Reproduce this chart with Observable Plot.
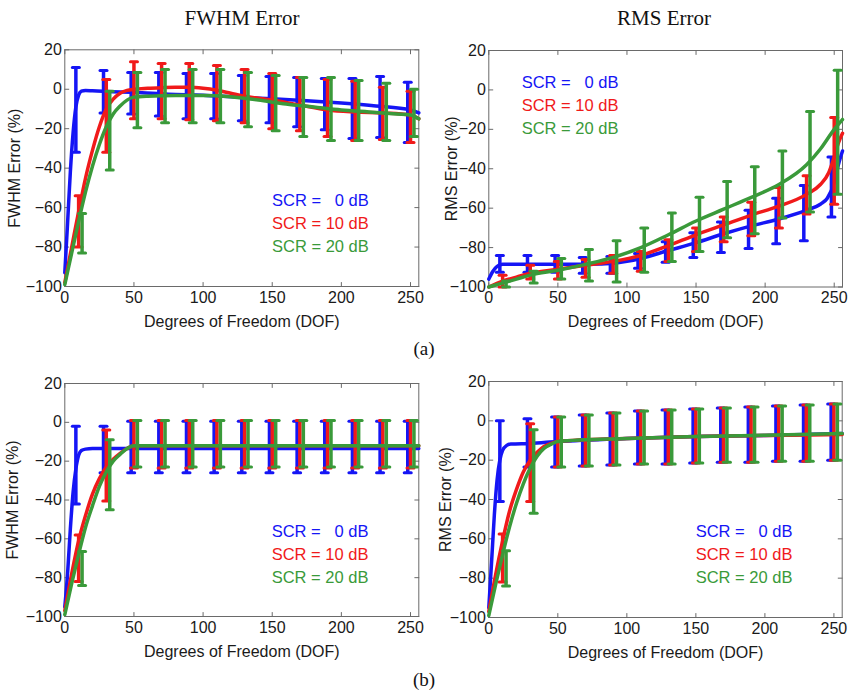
<!DOCTYPE html>
<html><head><meta charset="utf-8">
<script src="https://cdn.jsdelivr.net/npm/d3@7"></script>
<script src="https://cdn.jsdelivr.net/npm/@observablehq/plot@0.6"></script>
<style>
body{margin:0;background:#fff;}
#fig{position:relative;width:849px;height:694px;background:#fff;overflow:hidden;}
.panel{position:absolute;}
.title{position:absolute;font-family:"Liberation Serif","Times New Roman",serif;color:#111;transform:translateX(-50%);white-space:nowrap;line-height:24px;}
.leg{position:absolute;font-family:"Liberation Sans",Arial,sans-serif;font-size:16.5px;white-space:pre;line-height:23px;}
</style></head>
<body><div id="fig"></div>
<script>
// ---- shared ticks / categories ----
const xTicks = [0, 50, 100, 150, 200, 250];
const yTicks = [-100, -80, -60, -40, -20, 0, 20];
const xDomain = [0, 256];
const yDomain = [-100, 20];
const dofBars = [10, 30, 50, 70, 90, 110, 130, 150, 170, 190, 210, 230, 250];
const barOffsets = {blue: -2, red: 0, green: 2.5};
const legendLabels = ["SCR =\u2007 0 dB", "SCR = 10 dB", "SCR = 20 dB"];
const colors = {blue: "#1515f5", red: "#f01a1a", green: "#3a9a3a"};

// ---- (a) FWHM Error ----
const fwhmA_blue_hi = [11, 9.5, 8.5, 8.5, 8, 8, 7, 6.5, 6, 5.5, 5.5, 6.5, 3.5];
const fwhmA_blue_lo = [-32, -12, -12.5, -13.5, -15, -15, -16, -17, -19, -20.5, -25, -24.5, -27];
const fwhmA_red_hi = [-54, 5, 14, 13, 13, 12, 10, 8, 6, 5, 4, 1, -1];
const fwhmA_red_lo = [-80, -32, -15, -15, -15.5, -16, -17, -20, -21, -24, -26, -25.5, -27];
const fwhmA_green_hi = [-63, -1, 8.5, 10, 10, 10, 8.5, 7, 6, 6, 4.4, 3, 0];
const fwhmA_green_lo = [-83, -41, -19.5, -17, -17, -17, -19, -21, -24, -26, -26, -26, -24];
const fwhmA_blue_x = [0, 2, 4, 6, 8, 10, 12, 15, 20, 30, 50, 75, 100, 125, 150, 175, 200, 225, 250, 256];
const fwhmA_blue_y = [-93, -68, -42, -22, -9, -3, -1, -0.6, -0.8, -1.2, -1.5, -2.5, -3, -4, -4.8, -5.8, -7, -8.5, -10.5, -12];
const fwhmA_red_x = [0, 5, 10, 15, 20, 25, 30, 35, 40, 45, 50, 60, 70, 80, 90, 100, 110, 120, 130, 150, 170, 190, 210, 230, 250, 256];
const fwhmA_red_y = [-98, -80, -62, -45, -31, -19, -10, -5, -2, -0.6, 0, 0.5, 0.8, 1, 1, 0.5, -0.5, -2, -3.5, -5.5, -8, -10.5, -11.5, -12, -13, -15];
const fwhmA_green_x = [0, 5, 10, 15, 20, 25, 30, 35, 40, 45, 50, 60, 80, 100, 120, 140, 160, 180, 200, 220, 240, 250, 256];
const fwhmA_green_y = [-99, -83, -67, -52, -39, -28, -19, -12.5, -8.5, -5.5, -4, -3.5, -3.2, -3.2, -3.8, -5.5, -7.5, -9, -10.5, -11.5, -12.5, -13, -15];

// ---- (a) RMS Error ----
const rmsA_blue_hi = [-84, -84, -84, -85, -84.5, -83, -77, -72.5, -67, -61, -55, -48.5, -34];
const rmsA_blue_lo = [-92.5, -92.5, -92.5, -93, -93, -90.5, -87.5, -85, -82.5, -80.5, -78, -76.5, -64.5];
const rmsA_red_hi = [-94, -89, -87, -86, -84, -82, -76, -70, -64.5, -57, -49.5, -43.5, -14];
const rmsA_red_lo = [-100, -96, -96, -95, -93, -92, -87, -82, -77, -74, -70, -63, -58];
const rmsA_green_hi = [-97, -92, -85.5, -81, -76.5, -70, -62.5, -54.5, -46.5, -39, -31, -11, 10];
const rmsA_green_lo = [-100, -98, -96, -97, -97.5, -92.5, -87, -82, -75, -73, -65, -62, -53];
const rmsA_blue_x = [0, 3, 6, 10, 20, 40, 60, 80, 90, 100, 110, 130, 150, 170, 190, 210, 230, 240, 245, 250, 253, 256];
const rmsA_blue_y = [-96, -92, -89.5, -88.5, -88.5, -88.5, -88.5, -88.3, -88, -87, -85.5, -81.5, -77.5, -73, -69, -65.5, -61, -58, -55, -47, -38, -31];
const rmsA_red_x = [0, 10, 20, 30, 50, 70, 90, 110, 130, 150, 170, 190, 210, 230, 240, 246, 250, 253, 256];
const rmsA_red_y = [-100, -97, -95, -93, -91, -89, -87, -84, -79, -73.5, -68.5, -63.5, -59, -53, -48, -42, -34, -27, -22];
const rmsA_green_x = [0, 10, 20, 30, 50, 70, 90, 110, 130, 150, 170, 190, 210, 230, 240, 250, 256];
const rmsA_green_y = [-100, -98, -96, -94, -91.5, -88.5, -85, -80, -73.5, -66.5, -60.5, -54.5, -48, -38, -30, -20, -15];

// ---- (b) FWHM Error ----
const fwhmB_blue_hi = [-2, -2, 0.5, 0.5, 0.5, 0.5, 0.5, 0.5, 0.5, 0.5, 0.5, 0.5, 0.5];
const fwhmB_blue_lo = [-42, -26, -26, -26, -26, -26, -26, -26, -26, -26, -26, -26, -26];
const fwhmB_red_hi = [-58, -4, 1, 1, 1, 1, 1, 1, 1, 1, 1, 1, 1];
const fwhmB_red_lo = [-82, -40.5, -23.5, -23.5, -23.5, -23.5, -23.5, -23.5, -23.5, -23.5, -23.5, -23.5, -23.5];
const fwhmB_green_hi = [-66.5, -9, 1, 1, 1, 1, 1, 1, 1, 1, 1, 1, 1];
const fwhmB_green_lo = [-84, -45, -23, -23, -23, -23, -23, -23, -23, -23, -23, -23, -23];
const fwhmB_blue_x = [0, 2, 4, 6, 8, 10, 12, 15, 20, 256];
const fwhmB_blue_y = [-95, -78, -55, -36, -24, -17, -14.5, -13.8, -13.5, -13.5];
const fwhmB_red_x = [0, 5, 10, 15, 20, 25, 30, 35, 40, 45, 50, 256];
const fwhmB_red_y = [-97, -78, -61, -48, -37, -29, -23, -19, -16, -13.5, -12, -12];
const fwhmB_green_x = [0, 5, 10, 15, 20, 25, 30, 35, 40, 45, 50, 256];
const fwhmB_green_y = [-99, -83, -68, -54, -43, -33, -25.5, -20, -16.5, -13.5, -12, -12];

// ---- (b) RMS Error ----
const rmsB_blue_hi = [0, 1, 2, 3, 4, 5, 5.5, 6, 6.5, 7, 7.5, 8, 8.5];
const rmsB_blue_lo = [-41, -23.5, -23.5, -23, -22.5, -22, -22, -21.5, -21, -21, -20.5, -20.5, -20];
const rmsB_red_hi = [-57.5, -1.5, 2, 3, 4, 5, 5.5, 6, 6.5, 7, 7.5, 8, 8.5];
const rmsB_red_lo = [-82, -41, -23.5, -23, -22.5, -22, -22, -21.5, -21, -21, -20.5, -20.5, -20];
const rmsB_green_hi = [-66, -4.5, 2, 3, 4, 5, 5.5, 6, 6.5, 7, 7.5, 8, 8.5];
const rmsB_green_lo = [-84, -47, -23.5, -23, -22.5, -22, -22, -21.5, -21, -21, -20.5, -20.5, -20];
const rmsB_blue_x = [0, 2, 4, 6, 8, 10, 13, 16, 30, 50, 100, 150, 200, 256];
const rmsB_blue_y = [-95, -72, -48, -30, -20, -15, -12.5, -11.8, -11.5, -10.5, -9, -8, -7.5, -6.5];
const rmsB_red_x = [0, 5, 10, 15, 20, 25, 30, 35, 40, 45, 50, 100, 150, 200, 256];
const rmsB_red_y = [-97, -78, -61, -46, -35, -26, -20, -16, -13, -11.5, -10.5, -9, -8, -7.5, -7];
const rmsB_green_x = [0, 5, 10, 15, 20, 25, 30, 35, 40, 45, 50, 100, 150, 200, 256];
const rmsB_green_y = [-99, -83, -68, -54, -42, -32, -24, -18, -14, -12, -10.5, -9, -8, -7.3, -6.5];

// ---- drawing helpers ----
const tickShape = {draw(ctx, l) { ctx.moveTo(0, 0); ctx.lineTo(0, -l); }};
const capShape = {draw(ctx, l) { ctx.moveTo(-l / 2, 0); ctx.lineTo(l / 2, 0); }};
const frameColor = "#6a6a6a";
const sansFont = "'Liberation Sans', Arial, sans-serif";

function seriesMarks(lx, ly, lo, hi, name) {
  const color = colors[name];
  const line = lx.map((x, i) => ({x, y: ly[i]}));
  const bars = dofBars.map((d, i) => ({x: d + barOffsets[name], lo: lo[i], hi: hi[i]}));
  return [
    Plot.line(line, {x: "x", y: "y", stroke: color, strokeWidth: 3.5, curve: "monotone-x"}),
    Plot.ruleX(bars, {x: "x", y1: "lo", y2: "hi", stroke: color, strokeWidth: 3.5}),
    Plot.vector(bars, {x: "x", y: "lo", length: 7, shape: capShape, anchor: "start", stroke: color, strokeWidth: 3}),
    Plot.vector(bars, {x: "x", y: "hi", length: 7, shape: capShape, anchor: "start", stroke: color, strokeWidth: 3})
  ];
}

function frameTicks() {
  const o = {length: 4, shape: tickShape, anchor: "start", stroke: frameColor, strokeWidth: 1};
  return [
    Plot.vector(xTicks, {...o, x: d => d, frameAnchor: "bottom", rotate: 0}),
    Plot.vector(xTicks, {...o, x: d => d, frameAnchor: "top", rotate: 180}),
    Plot.vector(yTicks, {...o, y: d => d, frameAnchor: "left", rotate: 90}),
    Plot.vector(yTicks, {...o, y: d => d, frameAnchor: "right", rotate: -90})
  ];
}

function panel(p) {
  const chart = Plot.plot({
    width: p.width, height: p.height,
    marginLeft: p.ml, marginRight: p.mr, marginTop: p.mt, marginBottom: p.mb,
    x: {domain: xDomain},
    y: {domain: yDomain},
    style: {background: "transparent", overflow: "visible", fontFamily: sansFont, fontSize: "16px", color: "#1a1a1a"},
    marks: [
      Plot.frame({stroke: frameColor, strokeWidth: 1}),
      ...frameTicks(),
      Plot.axisX(xTicks, {tickSize: 0, tickPadding: 5, label: "Degrees of Freedom (DOF)", labelAnchor: "center", labelArrow: "none", labelOffset: 40, fontSize: 16, fontFamily: sansFont}),
      Plot.axisY(yTicks, {tickSize: 0, tickPadding: 3, label: p.ylabel, labelAnchor: "center", labelArrow: "none", labelOffset: p.ylabelOffset, fontSize: 16, fontFamily: sansFont}),
      ...seriesMarks(p.s.blue[0], p.s.blue[1], p.s.blue[2], p.s.blue[3], "blue"),
      ...seriesMarks(p.s.red[0], p.s.red[1], p.s.red[2], p.s.red[3], "red"),
      ...seriesMarks(p.s.green[0], p.s.green[1], p.s.green[2], p.s.green[3], "green")
    ]
  });
  const div = document.createElement("div");
  div.className = "panel";
  div.style.left = p.left + "px";
  div.style.top = p.top + "px";
  div.appendChild(chart);
  fig.appendChild(div);
  // legend
  const leg = document.createElement("div");
  leg.className = "leg";
  leg.style.left = p.legLeft + "px";
  leg.style.top = p.legTop + "px";
  ["blue", "red", "green"].forEach((c, i) => {
    const row = document.createElement("div");
    row.textContent = legendLabels[i];
    row.style.color = colors[c];
    leg.appendChild(row);
  });
  fig.appendChild(leg);
}

const fig = document.getElementById("fig");

panel({left: 0, top: 30, width: 424, height: 310, ml: 64.3, mr: 5.7, mt: 19.3, mb: 54,
  ylabel: "FWHM Error (%)", ylabelOffset: 56, legLeft: 272, legTop: 188.5,
  s: {blue: [fwhmA_blue_x, fwhmA_blue_y, fwhmA_blue_lo, fwhmA_blue_hi],
      red: [fwhmA_red_x, fwhmA_red_y, fwhmA_red_lo, fwhmA_red_hi],
      green: [fwhmA_green_x, fwhmA_green_y, fwhmA_green_lo, fwhmA_green_hi]}});
panel({left: 424, top: 30, width: 425, height: 310, ml: 64.3, mr: 7, mt: 20, mb: 53.5,
  ylabel: "RMS Error (%)", ylabelOffset: 43, legLeft: 521.7, legTop: 70.8,
  s: {blue: [rmsA_blue_x, rmsA_blue_y, rmsA_blue_lo, rmsA_blue_hi],
      red: [rmsA_red_x, rmsA_red_y, rmsA_red_lo, rmsA_red_hi],
      green: [rmsA_green_x, rmsA_green_y, rmsA_green_lo, rmsA_green_hi]}});
panel({left: 0, top: 360, width: 424, height: 310, ml: 64.3, mr: 5.7, mt: 23, mb: 54,
  ylabel: "FWHM Error (%)", ylabelOffset: 58, legLeft: 271.7, legTop: 520.2,
  s: {blue: [fwhmB_blue_x, fwhmB_blue_y, fwhmB_blue_lo, fwhmB_blue_hi],
      red: [fwhmB_red_x, fwhmB_red_y, fwhmB_red_lo, fwhmB_red_hi],
      green: [fwhmB_green_x, fwhmB_green_y, fwhmB_green_lo, fwhmB_green_hi]}});
panel({left: 424, top: 360, width: 425, height: 310, ml: 64.3, mr: 7.3, mt: 21, mb: 53,
  ylabel: "RMS Error (%)", ylabelOffset: 49.6, legLeft: 695.7, legTop: 520,
  s: {blue: [rmsB_blue_x, rmsB_blue_y, rmsB_blue_lo, rmsB_blue_hi],
      red: [rmsB_red_x, rmsB_red_y, rmsB_red_lo, rmsB_red_hi],
      green: [rmsB_green_x, rmsB_green_y, rmsB_green_lo, rmsB_green_hi]}});

// titles and sub-captions
const texts = [
  {t: "FWHM Error", x: 242, y: 6, size: 21},
  {t: "RMS Error", x: 664, y: 6, size: 21},
  {t: "(a)", x: 424, y: 337, size: 19},
  {t: "(b)", x: 424, y: 668, size: 19}
];
texts.forEach(d => {
  const el = document.createElement("div");
  el.className = "title";
  el.textContent = d.t;
  el.style.left = d.x + "px";
  el.style.top = d.y + "px";
  el.style.fontSize = d.size + "px";
  fig.appendChild(el);
});
</script></body></html>
